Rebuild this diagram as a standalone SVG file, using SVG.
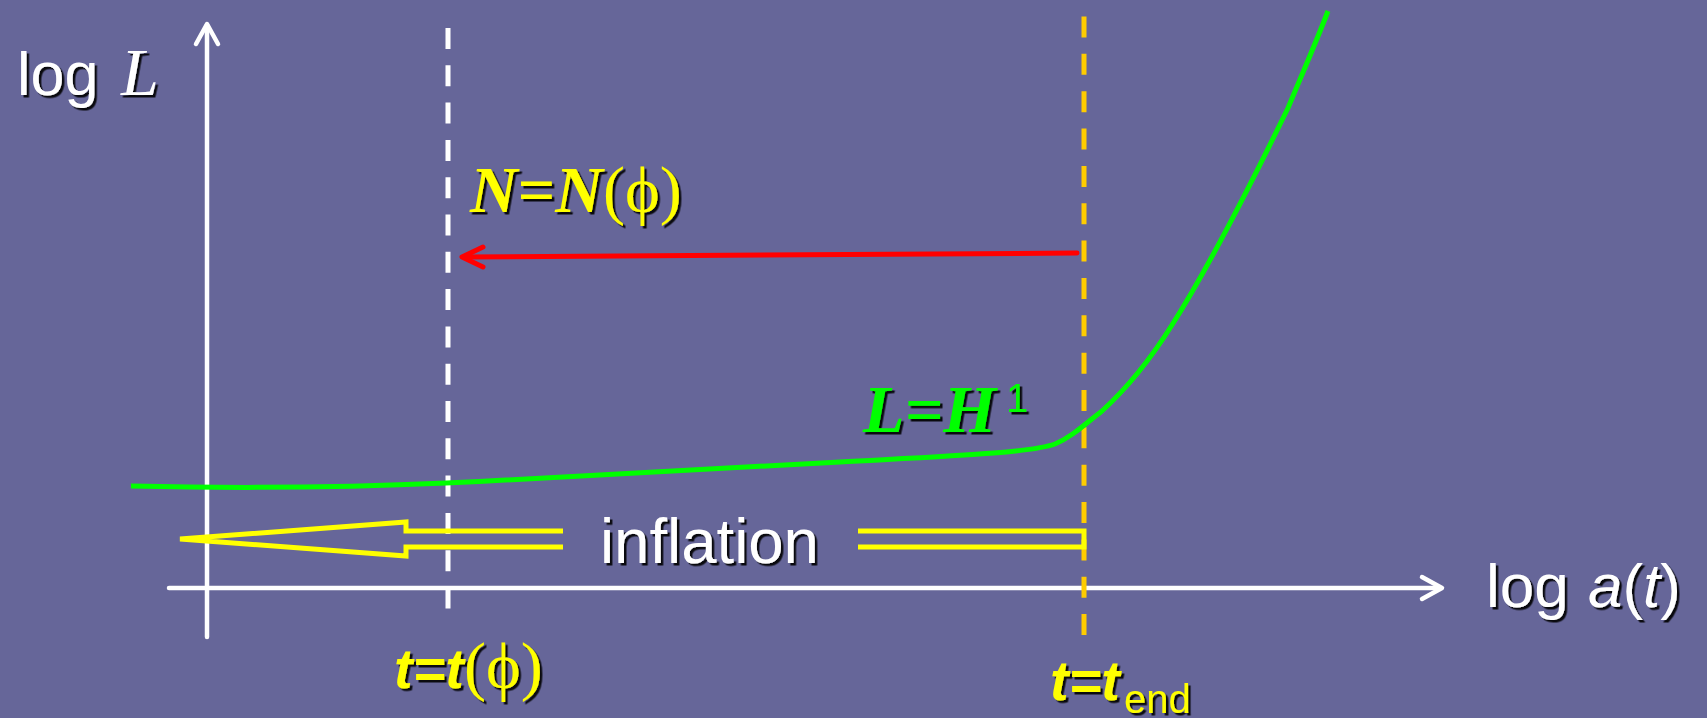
<svg xmlns="http://www.w3.org/2000/svg" width="1707" height="718" viewBox="0 0 1707 718">
  <defs>
    <filter id="sh" x="-10%" y="-10%" width="130%" height="140%">
      <feDropShadow dx="2.5" dy="2.5" stdDeviation="0.4" flood-color="#000" flood-opacity="0.9"/>
    </filter>
    <style>
      .axis { stroke: #fff; stroke-width: 4.5; fill: none; stroke-linecap: round; stroke-linejoin: round; }
      .sans { font-family: "Liberation Sans", Arial, sans-serif; }
      .serif { font-family: "Liberation Serif", "Times New Roman", serif; }
      .lbl { filter: url(#sh); }
      .bi { font-weight: bold; font-style: italic; }
    </style>
  </defs>
  <rect x="0" y="0" width="1707" height="718" fill="#666699"/>

  <g id="axes">
    <line class="axis" x1="207" y1="637" x2="207" y2="25"/>
    <path class="axis" d="M196,44 L207,24 L218,44"/>
    <line class="axis" x1="169" y1="588" x2="1440" y2="588" stroke-linecap="butt"/>
    <path class="axis" d="M1422,577 L1442,588 L1422,599"/>
  </g>

  <g id="time-markers">
    <line x1="448" y1="28" x2="448" y2="610" stroke="#fff" stroke-width="5" stroke-dasharray="21 16.3"/>
    <line x1="1084" y1="16.5" x2="1084" y2="636" stroke="#FFCC00" stroke-width="5" stroke-dasharray="21 16.35"/>
  </g>

  <g id="inflation-arrow">
    <path d="M563,531 L406,531 L406,522 L180,539 L406,556 L406,547 L563,547" fill="none" stroke="#FFFF00" stroke-width="5" stroke-linejoin="miter"/>
    <path d="M858,531 L1084,531 L1084,547 L858,547" fill="none" stroke="#FFFF00" stroke-width="5"/>
    <text class="sans lbl" x="600" y="563" font-size="63.5" fill="#fff">inflation</text>
  </g>

  <g id="connectors">
    <path id="hubble-curve" d="M131,486 C260,489 380,486 446,483 C600,476 760,466 840,462 C950,456 1030,453 1055,444 C1072,437 1085,424 1102,411 C1125,390 1150,360 1172,325 C1212,262 1252,182 1288,108 C1303,72 1317,40 1328,11" fill="none" stroke="#00FF00" stroke-width="5"/>
    <g id="efolds-arrow" stroke="#FF0000" stroke-width="5" fill="none" stroke-linecap="round" stroke-linejoin="round">
      <line x1="1077" y1="253" x2="464" y2="257"/>
      <path d="M483,247 L462,257 L483,267"/>
    </g>
  </g>

  <g id="label-logL">
    <text class="lbl" x="17" y="95" fill="#fff"><tspan class="sans" font-size="61">log </tspan><tspan class="serif" font-style="italic" font-size="68" x="121">L</tspan></text>
  </g>

  <g id="label-N">
    <text class="serif lbl" x="470" y="212" font-size="66" fill="#FFFF00"><tspan class="bi">N</tspan><tspan font-weight="bold">=</tspan><tspan class="bi">N</tspan><tspan>(ϕ)</tspan></text>
  </g>

  <g id="label-LH">
    <text class="lbl" x="863" y="432" fill="#00FF00"><tspan class="serif bi" font-size="68">L=H</tspan><tspan class="sans" font-size="40" x="1006" y="412">1</tspan></text>
  </g>

  <g id="label-tphi">
    <text class="lbl" x="394" y="688" fill="#FFFF00"><tspan class="sans bi" font-size="56">t=t</tspan><tspan class="serif" font-size="66">(ϕ)</tspan></text>
  </g>

  <g id="label-tend">
    <text class="lbl" x="1050" y="700" fill="#FFFF00"><tspan class="sans bi" font-size="56">t=t</tspan><tspan class="sans" font-size="40" x="1124" y="713">end</tspan></text>
  </g>

  <g id="label-loga">
    <text class="sans lbl" x="1486" y="607" font-size="62" fill="#fff"><tspan>log </tspan><tspan font-style="italic" dx="2">a</tspan><tspan>(</tspan><tspan font-style="italic">t</tspan><tspan>)</tspan></text>
  </g>
</svg>
